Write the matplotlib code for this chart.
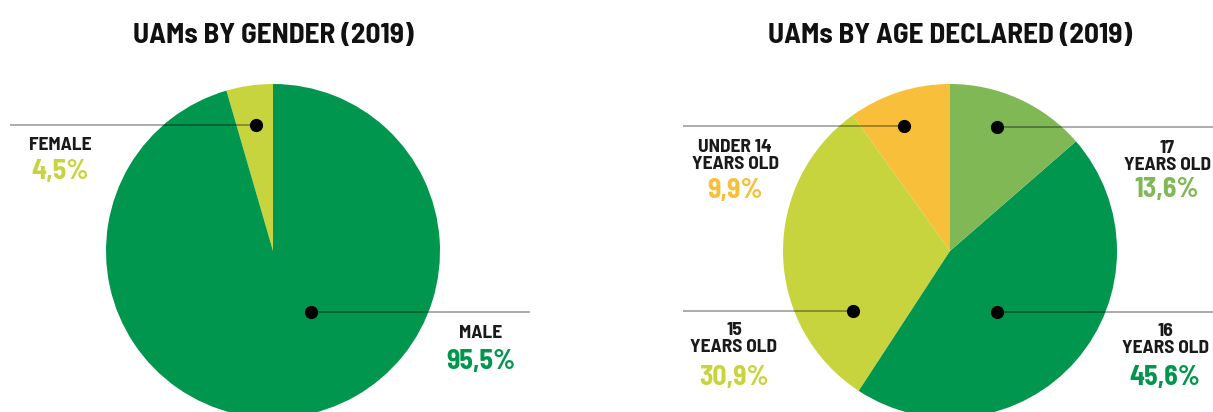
import matplotlib
matplotlib.use("Agg")
import matplotlib.pyplot as plt
from matplotlib import font_manager

# ---- data ----
gender_labels = ["FEMALE", "MALE"]
gender_values = [4.5, 95.5]
gender_pct = ["4,5%", "95,5%"]

age_labels = ["UNDER 14\nYEARS OLD", "15\nYEARS OLD", "16\nYEARS OLD", "17\nYEARS OLD"]
age_values = [9.9, 30.9, 45.6, 13.6]
age_pct = ["9,9%", "30,9%", "45,6%", "13,6%"]

titles = ["UAMs BY GENDER (2019)", "UAMs BY AGE DECLARED (2019)"]

# ---- style ----
GREEN = "#00964E"
YGREEN = "#C8D43E"
ORANGE = "#F8C03A"
LGREEN = "#80B856"
gender_colors = [YGREEN, GREEN]
age_colors = [ORANGE, YGREEN, GREEN, LGREEN]

names = {f.name for f in font_manager.fontManager.ttflist}
FONT = "DejaVu Sans"
for cand in ["Barlow Semi Condensed", "Roboto Condensed", "Barlow Condensed",
             "Archivo Narrow", "Liberation Sans Narrow"]:
    if cand in names:
        FONT = cand
        break

W, H = 1213, 412
fig = plt.figure(figsize=(W / 100, H / 100), dpi=100)
ax = fig.add_axes([0, 0, 1, 1])

R = 167
# y axis inverted below -> counterclock=False appears counter-clockwise on screen
ax.pie(gender_values, colors=gender_colors, startangle=-90, counterclock=False,
       center=(273, 251), radius=R, frame=True)
ax.pie(age_values, colors=age_colors, startangle=-90, counterclock=False,
       center=(950, 251), radius=R, frame=True)
ax.set_xlim(0, W)
ax.set_ylim(H, 0)
ax.set_aspect("equal")
ax.axis("off")

# callout layout: dot (x, y), line end x, label centre x, label y, pct y
callouts_gender = [
    dict(dot=(256, 125), end=10, lx=60, ly=146, py=171),
    dict(dot=(311, 312), end=530, lx=481, ly=333, py=361),
]
callouts_age = [
    dict(dot=(904, 126), end=683, lx=735, ly=156, py=190),
    dict(dot=(853, 311), end=683, lx=734, ly=339, py=378),
    dict(dot=(997, 312), end=1213, lx=1165, ly=340, py=378),
    dict(dot=(997, 127), end=1213, lx=1167, ly=157, py=189),
]

LBL = 14
PCT = 20

def draw(callouts, labels, pcts, colors):
    for c, lab, pct, col in zip(callouts, labels, pcts, colors):
        x, y = c["dot"]
        ax.plot([x, c["end"]], [y, y], color="black", alpha=0.33, lw=1.4,
                solid_capstyle="butt", zorder=5)
        ax.plot([x], [y], marker="o", ms=8.5, color="black", zorder=6)
        ax.text(c["lx"], c["ly"], lab, ha="center", va="center", fontsize=LBL,
                fontweight="bold", family=FONT, color="#1a1a1a", linespacing=0.95)
        ax.text(c["lx"], c["py"], pct, ha="center", va="center", fontsize=PCT,
                fontweight="bold", family=FONT, color=col)

draw(callouts_gender, gender_labels, gender_pct, gender_colors)
draw(callouts_age, age_labels, age_pct, age_colors)

ax.text(273, 35, titles[0], ha="center", va="center", fontsize=21,
        fontweight="bold", family=FONT, color="#111111")
ax.text(950, 35, titles[1], ha="center", va="center", fontsize=21,
        fontweight="bold", family=FONT, color="#111111")

fig.savefig("out.png", dpi=100)
